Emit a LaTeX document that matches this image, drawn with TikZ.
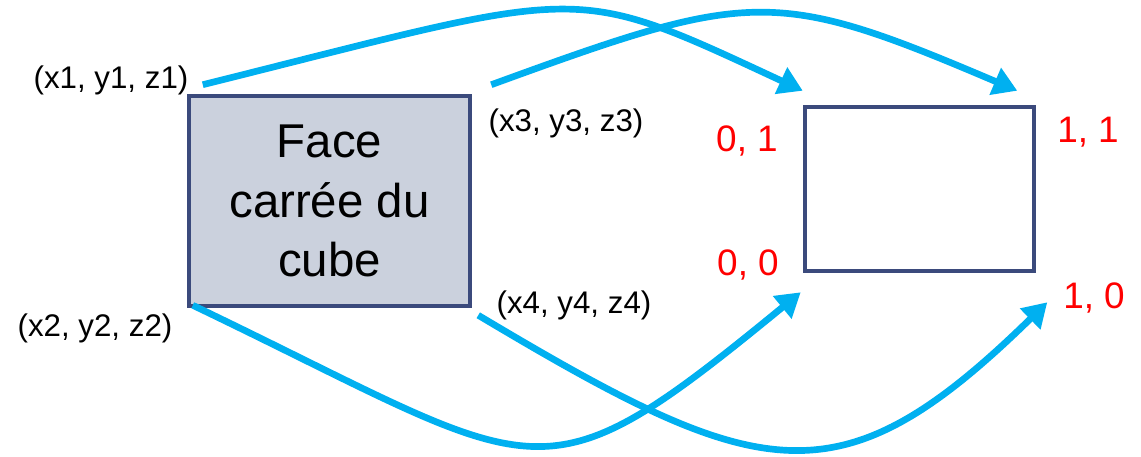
\documentclass[tikz,border=0pt]{standalone}
\usepackage{fontspec}
\setmainfont{Liberation Sans}
\usetikzlibrary{arrows.meta}
\definecolor{facefill}{HTML}{CBD1DD}
\definecolor{faceline}{HTML}{3B4A7C}
\definecolor{mapblue}{HTML}{00B0F0}
\begin{document}
\begin{tikzpicture}[
    x=0.02cm, y=-0.02cm,
    square/.style={rectangle, draw=faceline, line width=2.6pt, inner sep=0pt, align=center},
    coord/.style={font=\fontsize{17.8}{20}\selectfont, inner sep=0pt},
    uvlabel/.style={font=\fontsize{21}{24}\selectfont, text=red, inner sep=0pt},
    map/.style={draw=mapblue, line width=3.8pt, -{Triangle[length=0.48cm, width=0.56cm]}}
]
\useasboundingbox (0,0) rectangle (1141,456);

% Face du cube et carre (u,v)
\node[square, fill=facefill, minimum width=5.62cm, minimum height=4.2cm,
      font=\fontsize{27}{34}\selectfont] (face) at (329.5,201) {Face\\carrée du\\cube};
\node[square, fill=white, minimum width=4.58cm, minimum height=3.28cm] (uv) at (919.5,189) {};

% Sommets
\node[coord] (p1) at (111,80) {(x1, y1, z1)};
\node[coord] (p2) at (95,328) {(x2, y2, z2)};
\node[coord] (p3) at (566,123) {(x3, y3, z3)};
\node[coord] (p4) at (574,305) {(x4, y4, z4)};

% Coordonnees de texture
\node[uvlabel] (c01) at (747,141) {0, 1};
\node[uvlabel] (c11) at (1088,132) {1, 1};
\node[uvlabel] (c00) at (748,265) {0, 0};
\node[uvlabel] (c10) at (1094,298) {1, 0};

% Correspondances
\draw[map] ([shift={(16,-9)}]face.north west) .. controls (590,-12) and (567,-19) .. ([shift={(0,-14)}]uv.north west);
\draw[map] ([shift={(19,-9)}]face.north east) .. controls (751,-10) and (774,-13) .. ([shift={(-19,-14)}]uv.north east);
\draw[map] ([shift={(6,-3)}]face.south west) .. controls (547,475) and (534,511) .. ([shift={(-2,19)}]uv.south west);
\draw[map] ([shift={(6,7)}]face.south east) .. controls (761,484) and (839,506) .. ([shift={(11,29)}]uv.south east);
\end{tikzpicture}
\end{document}
